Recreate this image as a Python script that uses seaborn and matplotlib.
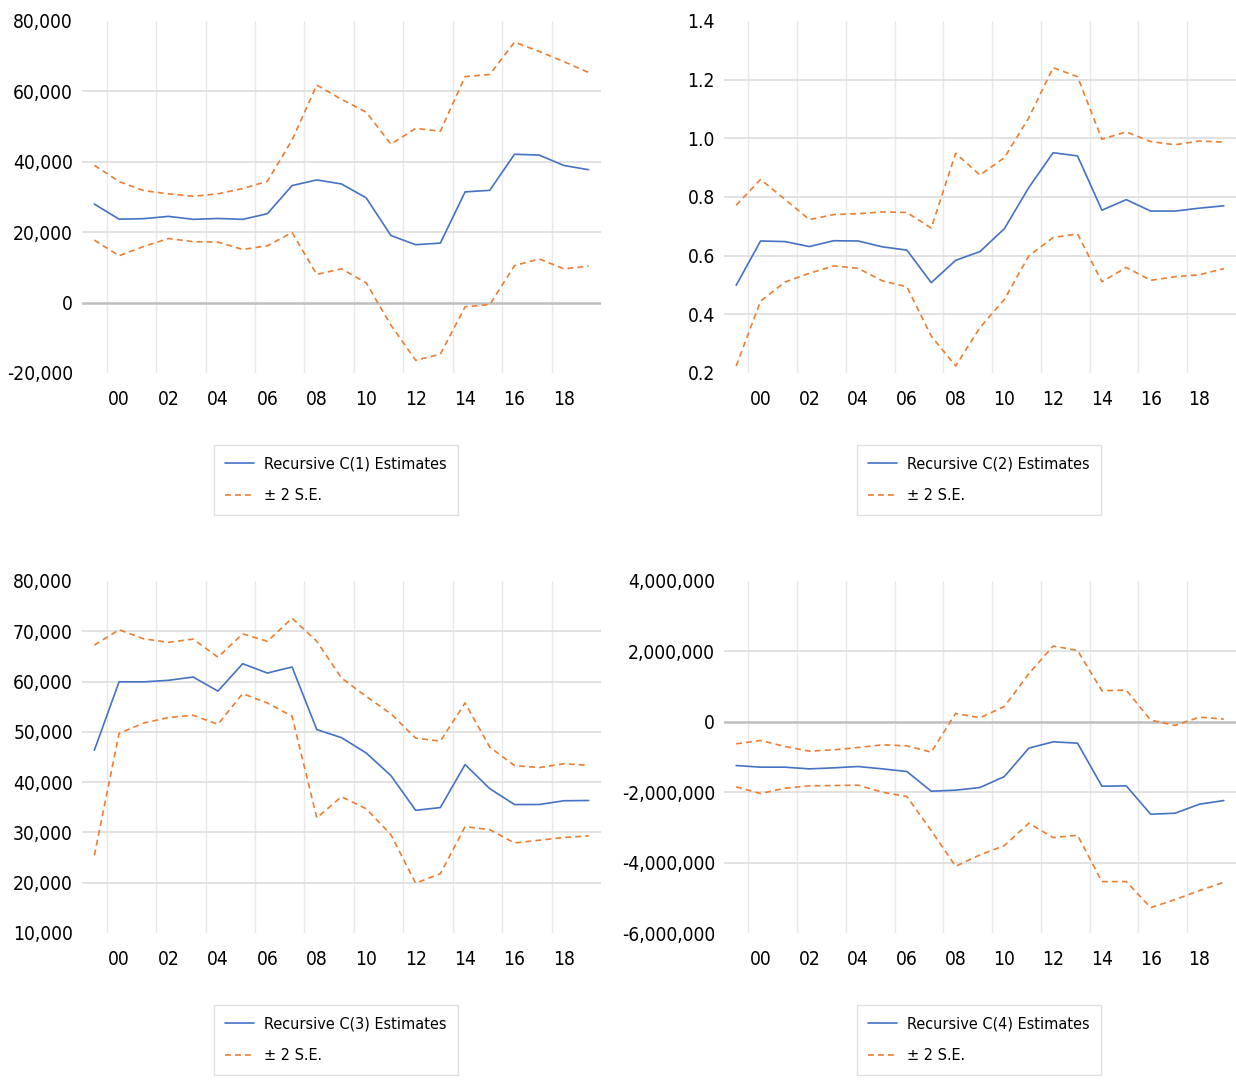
import matplotlib
matplotlib.use('Agg')
import matplotlib.pyplot as plt
from matplotlib import font_manager
from matplotlib.font_manager import FontProperties
from matplotlib.textpath import TextPath
from matplotlib.ticker import FuncFormatter
import seaborn as sns

years = list(range(1999, 2020))
tick_years = [2000, 2002, 2004, 2006, 2008, 2010, 2012, 2014, 2016, 2018]
tick_labels = ['00', '02', '04', '06', '08', '10', '12', '14', '16', '18']

# C(1)
c1_est = [28000, 23700, 23850, 24500, 23650, 23900, 23650, 25250, 33250, 34850, 33700,
          29750, 19050, 16450, 16900, 31450, 31900, 42150, 41900, 38950, 37750]
c1_upper = [39000, 34400, 31800, 30900, 30200, 30900, 32400, 34450, 46200, 61800, 57750,
            54100, 45000, 49500, 48700, 64200, 64800, 74000, 71350, 68450, 65350]
c1_lower = [17750, 13300, 15950, 18200, 17300, 17200, 15100, 16150, 19900, 8000, 9600,
            5600, -6400, -16400, -14650, -1200, -550, 10500, 12400, 9600, 10350]

# C(2)
c2_est = [0.499, 0.650, 0.648, 0.631, 0.651, 0.650, 0.630, 0.619, 0.508, 0.584, 0.614,
          0.692, 0.832, 0.951, 0.940, 0.755, 0.791, 0.752, 0.752, 0.762, 0.770]
c2_upper = [0.772, 0.860, 0.792, 0.723, 0.740, 0.743, 0.749, 0.747, 0.694, 0.949, 0.875,
            0.934, 1.070, 1.241, 1.210, 0.997, 1.022, 0.989, 0.978, 0.991, 0.987]
c2_lower = [0.224, 0.445, 0.510, 0.540, 0.565, 0.557, 0.514, 0.494, 0.326, 0.224, 0.355,
            0.451, 0.599, 0.662, 0.674, 0.511, 0.560, 0.516, 0.528, 0.535, 0.556]

# C(3)
c3_est = [46350, 59950, 59950, 60250, 60900, 58100, 63550, 61700, 62900, 50450, 48850,
          45800, 41300, 34400, 34950, 43500, 38700, 35550, 35550, 36300, 36350]
c3_upper = [67250, 70300, 68500, 67800, 68450, 64850, 69500, 68000, 72600, 68000, 60700,
            57050, 53600, 48750, 48150, 55750, 46950, 43300, 42900, 43650, 43350]
c3_lower = [25450, 49700, 51750, 52850, 53300, 51500, 57600, 55750, 53100, 32900, 37100,
            34700, 29550, 19900, 21800, 31150, 30550, 27900, 28450, 29000, 29300]

# C(4)
c4_est = [-1242000, -1289000, -1289000, -1337000, -1308000, -1270000, -1337000, -1412000,
          -1972000, -1943000, -1867000, -1555000, -749000, -569000, -607000, -1829000,
          -1820000, -2626000, -2597000, -2341000, -2237000]
c4_upper = [-626000, -531000, -701000, -834000, -796000, -730000, -654000, -682000,
            -863000, 237000, 114000, 436000, 1365000, 2152000, 2029000, 882000,
            900000, 47000, -104000, 133000, 76000]
c4_lower = [-1848000, -2038000, -1886000, -1820000, -1810000, -1801000, -2000000, -2123000,
            -3090000, -4104000, -3782000, -3517000, -2882000, -3289000, -3223000, -4540000,
            -4540000, -5280000, -5052000, -4796000, -4559000]

est_labels = ['Recursive C(1) Estimates', 'Recursive C(2) Estimates',
              'Recursive C(3) Estimates', 'Recursive C(4) Estimates']
se_label = '± 2 S.E.'

y_ticks = [
    [-20000, 0, 20000, 40000, 60000, 80000],
    [0.2, 0.4, 0.6, 0.8, 1.0, 1.2, 1.4],
    [10000, 20000, 30000, 40000, 50000, 60000, 70000, 80000],
    [-6000000, -4000000, -2000000, 0, 2000000, 4000000],
]

series = [(c1_est, c1_upper, c1_lower), (c2_est, c2_upper, c2_lower),
          (c3_est, c3_upper, c3_lower), (c4_est, c4_upper, c4_lower)]

sns.set_style('white')

# the original uses a narrow (Calibri-like) face: take a condensed font if one exists
family, stretch = 'Liberation Sans', 'normal'
for f in font_manager.fontManager.ttflist:
    narrow = ('Narrow' in f.name or 'Condensed' in f.name
              or str(f.stretch) in ('condensed', 'semi-condensed'))
    if narrow and f.style == 'normal' and f.weight in (400, 'normal', 'regular'):
        family, stretch = f.name, str(f.stretch)
        break
plt.rcParams['font.family'] = [family, 'DejaVu Sans']
plt.rcParams['font.stretch'] = stretch


def fit_size(text, width_px, cap):
    fp = FontProperties(family=family, stretch=stretch)
    w = TextPath((0, 0), text, size=10, prop=fp).get_extents().width
    return min(cap, 10 * width_px * 0.72 / w)


tick_fs = min(fit_size('-20,000', 66, 18), fit_size('-6,000,000', 92, 18))
leg_fs = fit_size('Recursive C(1) Estimates', 180, 15.5)

blue = '#4472C4'
orange = '#ED7D31'
W, H = 1236, 1080

fig = plt.figure(figsize=(W / 100, H / 100), dpi=100)

# plot areas in pixels: left, top, right, bottom
boxes = [(82, 21, 601, 373), (724, 21, 1236, 373),
         (82, 581, 601, 933), (724, 581, 1236, 933)]
legend_pos = [(214, 445), (857, 445), (214, 1005), (857, 1005)]

for i in range(4):
    l, t, r, b = boxes[i]
    ax = fig.add_axes([l / W, 1 - b / H, (r - l) / W, (b - t) / H])
    est, up, lo = series[i]
    ticks = y_ticks[i]

    for xv in tick_years:
        ax.axvline(xv - 0.5, color='#E8E8E8', lw=1.0, zorder=0)
    for yv in ticks[1:-1]:
        if yv == 0:
            ax.axhline(0, color='#BFBFBF', lw=1.8, zorder=1)
        else:
            ax.axhline(yv, color='#DDDDDD', lw=1.2, zorder=0)

    sns.lineplot(x=years, y=est, ax=ax, color=blue, lw=1.2, label=est_labels[i])
    sns.lineplot(x=years, y=up, ax=ax, color=orange, lw=1.2, dashes=(3.5, 2.5),
                 label=se_label)
    sns.lineplot(x=years, y=lo, ax=ax, color=orange, lw=1.2, dashes=(3.5, 2.5),
                 label='_nolegend_')

    ax.set_xlim(1998.5, 2019.5)
    ax.set_ylim(ticks[0], ticks[-1])
    ax.set_xticks(tick_years)
    ax.set_xticklabels(tick_labels)
    ax.set_yticks(ticks)
    if i == 1:
        ax.yaxis.set_major_formatter(FuncFormatter(lambda v, p: f'{v:.1f}'))
    else:
        ax.yaxis.set_major_formatter(FuncFormatter(lambda v, p: f'{v:,.0f}'))
    ax.tick_params(axis='both', length=0, labelsize=tick_fs, colors='black')
    ax.tick_params(axis='x', pad=12)
    ax.tick_params(axis='y', pad=6.5)
    for s in ax.spines.values():
        s.set_visible(False)
    ax.set_xlabel('')
    ax.set_ylabel('')

    lx, ly = legend_pos[i]
    leg = ax.legend(loc='upper left', bbox_to_anchor=(lx / W, 1 - ly / H),
                    bbox_transform=fig.transFigure, fontsize=leg_fs, frameon=True,
                    fancybox=False, edgecolor='#D9D9D9', borderpad=0.7,
                    handlelength=1.8, handletextpad=0.6, labelspacing=1.05,
                    borderaxespad=0)
    leg.get_frame().set_linewidth(1.0)
    for txt in leg.get_texts():
        txt.set_color('black')

fig.savefig('out.png', dpi=100)
